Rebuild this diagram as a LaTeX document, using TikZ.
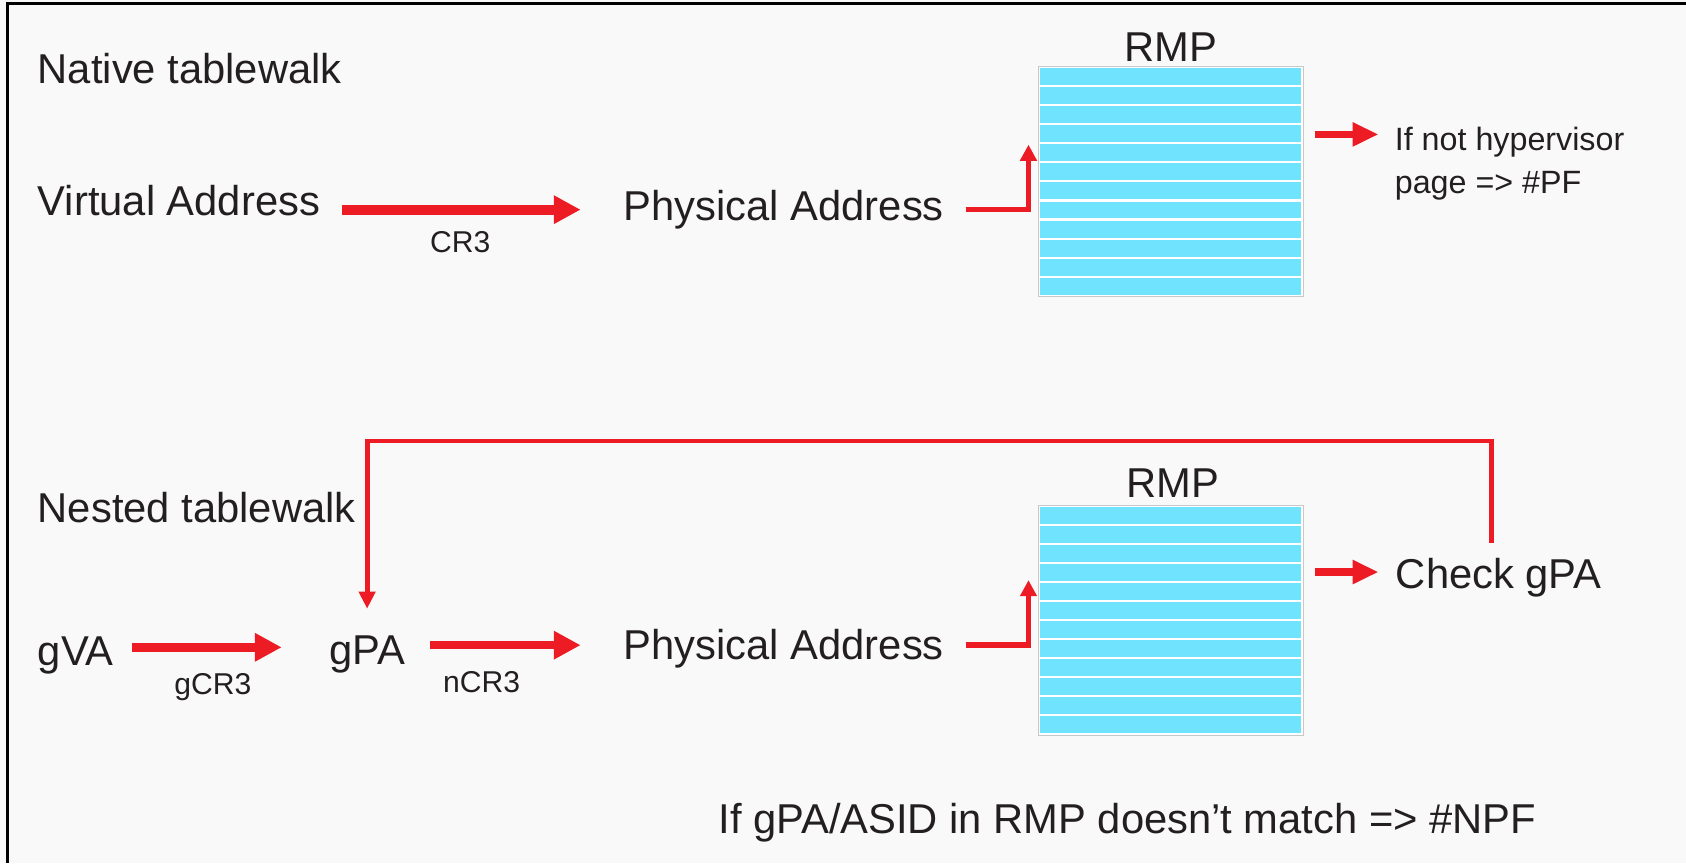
\documentclass[tikz,border=0pt]{standalone}
\usepackage{fontspec}
\setmainfont{Liberation Sans}
\usetikzlibrary{arrows.meta,calc}
\definecolor{redarrow}{RGB}{237,28,36}
\definecolor{txt}{RGB}{35,31,32}
\definecolor{stripe}{RGB}{112,227,255}
\definecolor{rmpedge}{RGB}{200,200,200}
\definecolor{bg}{RGB}{249,249,249}
\begin{document}
\begin{tikzpicture}[x=1pt,y=-1pt,
  big/.style={font=\fontsize{38.8}{44}\selectfont, text=txt, inner sep=0pt, anchor=base west},
  small/.style={font=\fontsize{28}{32}\selectfont, text=txt, inner sep=0pt, anchor=base},
  hyptext/.style={font=\fontsize{30}{34}\selectfont, text=txt, inner sep=0pt, anchor=base west},
  rmpbox/.style={draw=rmpedge, line width=1pt, fill=white, minimum width=246pt, minimum height=214pt, inner sep=0pt},
  mainarrow/.style={draw=redarrow, line width=9pt, -{Triangle[length=25pt,width=25pt]}},
  midarrow/.style={draw=redarrow, line width=7pt, -{Triangle[length=24pt,width=21pt]}},
  elbarrow/.style={draw=redarrow, line width=5pt, -{Triangle[length=15pt,width=15pt]}},
  fbarrow/.style={draw=redarrow, line width=4.5pt, -{Triangle[length=16pt,width=15pt]}}
]
\useasboundingbox (0,0) rectangle (1568,803);
\fill[bg] (0,0) rectangle (1568,803);
\draw[line width=2.5pt, black] (1568,3) -- (7,3) -- (7,803);

% ---------- Native tablewalk ----------
\node[big] (native) at (35,78) {Native tablewalk};
\node[big] (va) at (35,200) {Virtual Address};
\node[big] (pa1) at (580,205) {Physical Address};
\node[small] (cr3) at (428,235) {CR3};
\node[big, anchor=base] (rmp1lbl) at (1089,57) {RMP};
\node[rmpbox] (rmp1) at (1089,169) {};
\foreach \i in {0,...,11} {
  \fill[stripe] ($(rmp1.north west)+(2,2+\i*17.7)$) rectangle ++(242,15.8);
}
\node[hyptext] (hypa) at (1297,140) {If not hypervisor};
\node[hyptext] (hypb) at (1297,180) {page => \#PF};

\draw[mainarrow] ($(va.base east)+(20,-5)$) -- ($(pa1.base west)+(-40,-10)$);
\draw[elbarrow] ($(pa1.base east)+(20,-10)$) -| ($(rmp1.north west)+(-9,73)$);
\draw[midarrow] ($(rmp1.east)+(10,-44)$) -- ($(hypa.base west)+(-15,-15)$);

% ---------- Nested tablewalk ----------
\node[big] (nested) at (35,486) {Nested tablewalk};
\node[big] (gva) at (35,619) {gVA};
\node[big] (gpa) at (306,618) {gPA};
\node[big] (pa2) at (580,613) {Physical Address};
\node[small] (gcr3) at (198,646) {gCR3};
\node[small] (ncr3) at (448,644) {nCR3};
\node[big, anchor=base] (rmp2lbl) at (1091,463) {RMP};
\node[rmpbox] (rmp2) at (1089,577) {};
\foreach \i in {0,...,11} {
  \fill[stripe] ($(rmp2.north west)+(2,2+\i*17.7)$) rectangle ++(242,15.8);
}
\node[big] (check) at (1298,547) {Check gPA};
\node[big] (note) at (668,775) {If gPA/ASID in RMP doesn’t match => \#NPF};

\draw[mainarrow, line width=8pt] ($(gva.base east)+(17,-17)$) -- ($(gpa.base west)+(-44,-16)$);
\draw[mainarrow, line width=8pt] ($(gpa.base east)+(23,-18)$) -- ($(pa2.base west)+(-40,-13)$);
\draw[elbarrow] ($(pa2.base east)+(20,-13)$) -| ($(rmp2.north west)+(-9,70)$);
\draw[midarrow] ($(rmp2.east)+(10,-45)$) -- ($(check.base west)+(-16,-15)$);
\draw[fbarrow] ($(check.base west)+(89,-42)$) |- ($(gpa.north)+(0,-181)$) -- ($(gpa.north)+(0,-25)$);
\end{tikzpicture}
\end{document}
